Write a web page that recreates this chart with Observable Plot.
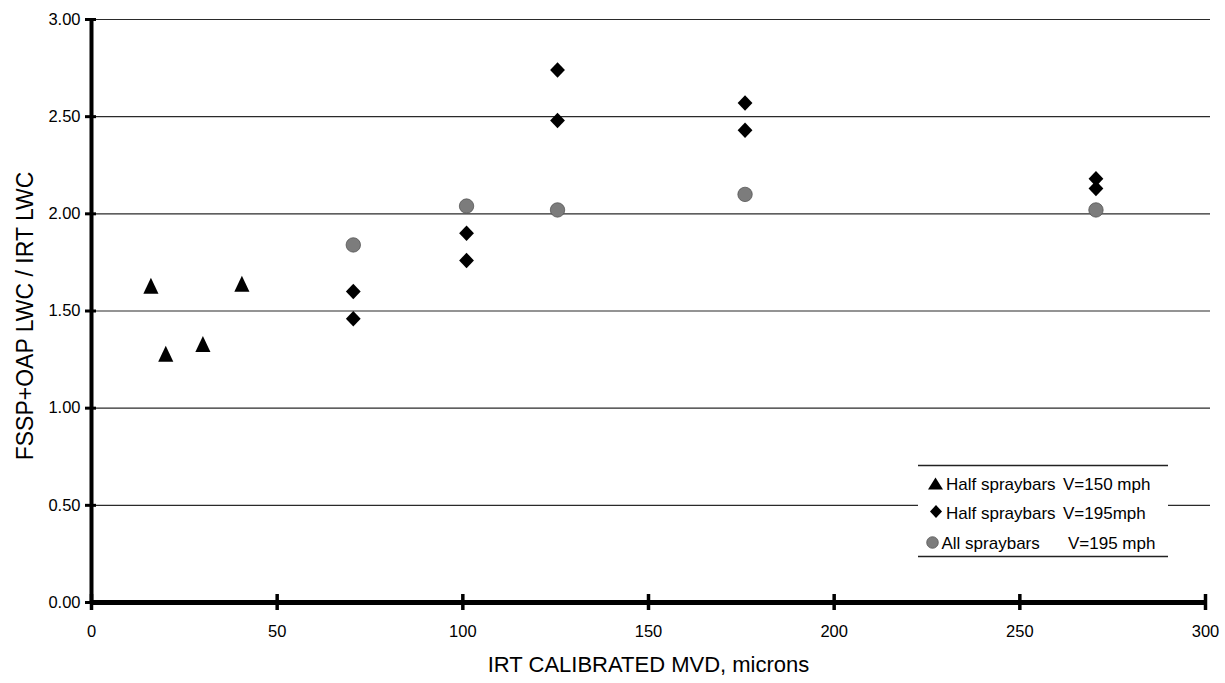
<!DOCTYPE html>
<html>
<head>
<meta charset="utf-8">
<script src="https://cdn.jsdelivr.net/npm/d3@7"></script>
<script src="https://cdn.jsdelivr.net/npm/@observablehq/plot@0.6"></script>
<style>
  html, body { margin: 0; padding: 0; background: #fff; }
  #wrap { position: relative; width: 1225px; height: 683px; font-family: "Liberation Sans", Arial, Helvetica, sans-serif; }
  #legend { position: absolute; left: 910px; top: 460px; }
</style>
</head>
<body>
<div id="wrap"></div>
<script>
// ---- data ----
const xTicks = [0, 50, 100, 150, 200, 250, 300];
const yTicks = [0, 0.5, 1, 1.5, 2, 2.5, 3];

const triX = [16, 20, 30, 40.5];
const triY = [1.63, 1.28, 1.33, 1.64];

const diaX = [70.5, 70.5, 101, 101, 125.5, 125.5, 176, 176, 270.5, 270.5];
const diaY = [1.60, 1.46, 1.90, 1.76, 2.74, 2.48, 2.57, 2.43, 2.18, 2.13];

const allX = [70.5, 101, 125.5, 176, 270.5];
const allY = [1.84, 2.04, 2.02, 2.10, 2.02];

const seriesNames = ["Half spraybars", "Half spraybars", "All spraybars"];
const seriesSpeeds = ["V=150 mph", "V=195mph", "V=195 mph"];

const xTitle = "IRT CALIBRATED MVD, microns";
const yTitle = "FSSP+OAP LWC / IRT LWC";

// ---- tables ----
const tri = triX.map((x, i) => ({x, y: triY[i]}));
const dia = diaX.map((x, i) => ({x, y: diaY[i]}));
const all = allX.map((x, i) => ({x, y: allY[i]}));

// custom symbols (centred on their bounding box)
const triSym = {draw(c, size) { const a = Math.sqrt(size / Math.PI);
  c.moveTo(0, -1.1 * a); c.lineTo(1.05 * a, 1.1 * a); c.lineTo(-1.05 * a, 1.1 * a); c.closePath(); }};
const diaSym = {draw(c, size) { const a = Math.sqrt(size / Math.PI);
  c.moveTo(0, -1.05 * a); c.lineTo(a, 0); c.lineTo(0, 1.05 * a); c.lineTo(-a, 0); c.closePath(); }};

const font = '"Liberation Sans", Arial, Helvetica, sans-serif';
const grey = "#7c7c7c";

const chart = Plot.plot({
  width: 1225,
  height: 683,
  marginLeft: 91,
  marginRight: 20,
  marginTop: 19,
  marginBottom: 81,
  x: {domain: [0, 300], axis: null},
  y: {domain: [0, 3], axis: null},
  style: {fontFamily: font, fontSize: "16.5px", color: "#000", background: "#fff", overflow: "visible"},
  marks: [
    Plot.ruleY(yTicks.filter(d => d > 0), {stroke: "#2a2a2a", strokeWidth: 1.2, insetRight: -5}),
    Plot.dot(all, {x: "x", y: "y", symbol: "circle", r: 7.2, fill: grey, stroke: "#555", strokeWidth: 0.8}),
    Plot.dot(dia, {x: "x", y: "y", symbol: diaSym, r: 7.4, fill: "#000"}),
    Plot.dot(tri, {x: "x", y: "y", symbol: triSym, r: 7.2, fill: "#000"}),
    Plot.ruleX([0], {stroke: "#000", strokeWidth: 4}),
    Plot.ruleY([0], {stroke: "#000", strokeWidth: 5}),
    // y ticks (crossing the axis) and labels
    Plot.axisY(yTicks, {tickSize: 11, dx: 5, fill: "none", stroke: "#000", strokeWidth: 3, label: null}),
    Plot.axisY(yTicks, {tickSize: 0, tickPadding: 11, stroke: "none", fill: "#000", tickFormat: d3.format(".2f"), label: null}),
    // x ticks (crossing the axis) and labels
    Plot.axisX(xTicks, {tickSize: 16, dy: -8, fill: "none", stroke: "#000", strokeWidth: 3.5, label: null}),
    Plot.axisX(xTicks, {tickSize: 0, tickPadding: 23, stroke: "none", fill: "#000", tickFormat: d => String(d), label: null}),
    // axis titles
    Plot.text([xTitle], {text: d => d, frameAnchor: "bottom", textAnchor: "middle", lineAnchor: "middle", dy: 62, fontSize: 22, fill: "#000"}),
    Plot.text([yTitle], {text: d => d, frameAnchor: "left", textAnchor: "middle", lineAnchor: "middle", rotate: -90, dx: -66, dy: 5, fontSize: 23, fill: "#000"})
  ]
});

const wrap = document.getElementById("wrap");
wrap.appendChild(chart);

// ---- legend overlay (inside the plot area, like the reference) ----
const NS = "http://www.w3.org/2000/svg";
const lg = document.createElementNS(NS, "svg");
lg.setAttribute("id", "legend");
lg.setAttribute("width", 265);
lg.setAttribute("height", 105);
lg.style.fontFamily = font;
lg.style.fontSize = "17px";
function el(tag, attrs, txt) {
  const e = document.createElementNS(NS, tag);
  for (const k in attrs) e.setAttribute(k, attrs[k]);
  if (txt != null) e.textContent = txt;
  lg.appendChild(e);
  return e;
}
el("rect", {x: 8, y: 5.5, width: 250, height: 91, fill: "#fff"});
el("line", {x1: 8, x2: 258, y1: 5.5, y2: 5.5, stroke: "#222", "stroke-width": 1.5});
el("line", {x1: 8, x2: 258, y1: 96.5, y2: 96.5, stroke: "#222", "stroke-width": 1.5});

const baselines = [29.5, 58.5, 88.5];
const nameX = [36, 36, 31.5];
const speedX = [153, 153, 158];
// symbols
el("path", {d: "M25.5,17.5 L33,29.5 L18,29.5 Z", fill: "#000"});
el("path", {d: "M26,45 L32,51.5 L26,58 L20,51.5 Z", fill: "#000"});
el("circle", {cx: 22.5, cy: 82.5, r: 5.8, fill: grey, stroke: "#555", "stroke-width": 0.8});
seriesNames.forEach((n, i) => {
  el("text", {x: nameX[i], y: baselines[i], fill: "#000"}, n);
  el("text", {x: speedX[i], y: baselines[i], fill: "#000"}, seriesSpeeds[i]);
});
wrap.appendChild(lg);
</script>
</body>
</html>
